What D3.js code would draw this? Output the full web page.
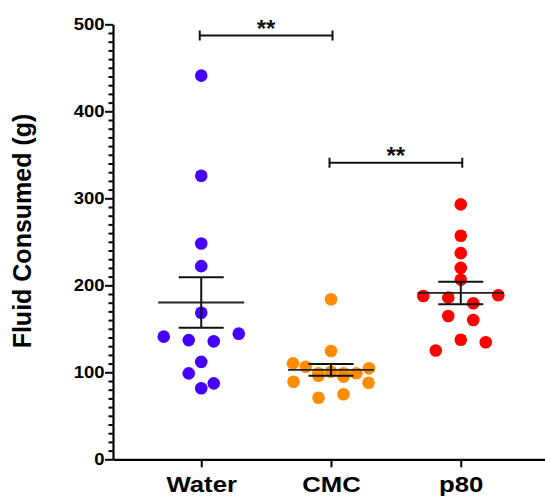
<!DOCTYPE html>
<html>
<head>
<meta charset="utf-8">
<script src="https://cdnjs.cloudflare.com/ajax/libs/d3/7.8.5/d3.min.js"></script>
<style>
  body { margin: 0; background: #fff; }
  text { font-family: "Liberation Sans", Arial, Helvetica, sans-serif; font-weight: bold; }
</style>
</head>
<body>
<script>
// data
var groups = ["Water", "CMC", "p80"];
var waterValues = [441, 326, 248, 222, 168.5, 141, 137, 135.6, 144.4, 98.8, 112, 81.6, 87.3];
var cmcValues = [184, 124.5, 110.3, 106.4, 98.9, 100.7, 98.9, 98.9, 104.6, 89.2, 96.1, 95, 88, 70.8, 74.7];
var p80Values = [293, 257, 237, 220, 206.5, 187.7, 185.8, 179.3, 188.5, 164.7, 160.1, 125, 137.5, 134.5];
var groupColors = ["#4600ff", "#ff8c00", "#ff0000"];
var yTicks = [0, 100, 200, 300, 400, 500];
var sigPairs = [["Water", "CMC"], ["CMC", "p80"]];
var sigLevels = [487, 341];
var sigLabels = ["**", "**"];

var w = 545,
    h = 496;

var margin = { top: 24.3, right: 0, bottom: 36.7, left: 113 };

var svg = d3
    .select("body")
    .append("svg")
    .attr("width", w)
    .attr("height", h);

var y = d3.scaleLinear()
    .domain([0, 500])
    .range([h - margin.bottom, margin.top]);

var x = d3.scalePoint()
    .domain(groups)
    .range([margin.left, 549])
    .padding(0.68);

var r = 6.3,
    slot = 25,
    maxSpread = 76,
    rowGap = 11.4,
    stretch = 1.12; // the reference text is a bit wide

// prism-like scatter: points close in value share a row, spread sideways
function spread(values) {
    var items = values.map(function (v, i) { return { v: v, i: i, dx: 0 }; });
    var sorted = items.slice().sort(function (a, b) { return b.v - a.v; });
    var rows = [], cur = null;
    sorted.forEach(function (d) {
        if (cur && y(d.v) - y(cur.anchor) < rowGap) cur.items.push(d);
        else { cur = { anchor: d.v, items: [d] }; rows.push(cur); }
    });
    rows.forEach(function (row) {
        row.items.sort(function (a, b) { return a.i - b.i; });
        var n = row.items.length;
        var step = n > 1 ? Math.min(slot, maxSpread / (n - 1)) : 0;
        row.items.forEach(function (d, k) { d.dx = (k - (n - 1) / 2) * step; });
    });
    return items;
}

var series = [waterValues, cmcValues, p80Values].map(function (vals, gi) {
    var m = d3.mean(vals);
    var sem = d3.deviation(vals) / Math.sqrt(vals.length);
    return { name: groups[gi], color: groupColors[gi], mean: m, sem: sem, points: spread(vals) };
});

// y axis with minor ticks
var minor = d3.range(0, 501, 10).filter(function (v) { return v % 100 != 0; });
svg.append("g")
    .attr("transform", "translate(" + margin.left + ",0)")
    .call(d3.axisLeft(y).tickValues(minor).tickSize(4.5).tickFormat(""))
    .call(function (g) { g.select(".domain").remove(); })
    .selectAll("line").attr("stroke", "#000").attr("stroke-width", 2);

var yaxis = svg.append("g")
    .attr("transform", "translate(" + margin.left + ",0)")
    .call(d3.axisLeft(y).tickValues(yTicks).tickSize(8).tickSizeOuter(0).tickPadding(1));
yaxis.select(".domain").attr("stroke", "#000").attr("stroke-width", 2.2);
yaxis.selectAll("line").attr("stroke", "#000").attr("stroke-width", 2);
yaxis.selectAll("text")
    .attr("font-size", 16.5)
    .attr("fill", "#000")
    .attr("x", -8.5 / stretch)
    .attr("transform", "scale(" + stretch + ",1)");

var xaxis = svg.append("g")
    .attr("transform", "translate(0," + y(0) + ")")
    .call(d3.axisBottom(x).tickSize(8).tickSizeOuter(0).tickPadding(8));
xaxis.select(".domain").attr("stroke", "#000").attr("stroke-width", 2.2);
xaxis.selectAll("line").attr("stroke", "#000").attr("stroke-width", 2);
xaxis.selectAll("text")
    .attr("font-size", 23)
    .attr("fill", "#000")
    .attr("transform", "scale(" + stretch + ",1)");

svg.append("text")
    .attr("transform", "translate(31," + 231 + ") rotate(-90)")
    .attr("text-anchor", "middle")
    .attr("font-size", 25)
    .attr("fill", "#000")
    .text("Fluid Consumed (g)");

// dots
var grp = svg.selectAll(".group")
    .data(series)
    .enter()
    .append("g")
    .attr("class", "group");

grp.selectAll("circle")
    .data(function (d) { return d.points.map(function (p) { return { p: p, s: d }; }); })
    .enter()
    .append("circle")
    .attr("cx", function (d) { return x(d.s.name) + d.p.dx; })
    .attr("cy", function (d) { return y(d.p.v); })
    .attr("r", r)
    .attr("fill", function (d) { return d.s.color; });

// mean and SEM
grp.append("line")
    .attr("x1", function (d) { return x(d.name) - 43; })
    .attr("x2", function (d) { return x(d.name) + 43; })
    .attr("y1", function (d) { return y(d.mean); })
    .attr("y2", function (d) { return y(d.mean); })
    .attr("stroke", "#222").attr("stroke-width", 1.8);

grp.append("line")
    .attr("x1", function (d) { return x(d.name); })
    .attr("x2", function (d) { return x(d.name); })
    .attr("y1", function (d) { return y(d.mean - d.sem); })
    .attr("y2", function (d) { return y(d.mean + d.sem); })
    .attr("stroke", "#111").attr("stroke-width", 2);

[-1, 1].forEach(function (sgn) {
    grp.append("line")
        .attr("x1", function (d) { return x(d.name) - 22.5; })
        .attr("x2", function (d) { return x(d.name) + 22.5; })
        .attr("y1", function (d) { return y(d.mean + sgn * d.sem); })
        .attr("y2", function (d) { return y(d.mean + sgn * d.sem); })
        .attr("stroke", "#111").attr("stroke-width", 2);
});

// significance bars
var sig = svg.selectAll(".sig")
    .data(sigPairs)
    .enter()
    .append("g")
    .attr("class", "sig");

sig.append("path")
    .attr("d", function (d, i) {
        var x1 = x(d[0]) - 1.5, x2 = x(d[1]) + 1.5, yy = y(sigLevels[i]);
        return "M" + x1 + "," + (yy - 5) + "V" + (yy + 5) + "M" + x1 + "," + yy + "H" + x2 +
            "M" + x2 + "," + (yy - 5) + "V" + (yy + 5);
    })
    .attr("fill", "none")
    .attr("stroke", "#111")
    .attr("stroke-width", 2);

sig.append("text")
    .attr("x", function (d) { return (x(d[0]) + x(d[1])) / 2; })
    .attr("y", function (d, i) { return y(sigLevels[i]) + 1.5; })
    .attr("text-anchor", "middle")
    .attr("font-size", 24)
    .attr("fill", "#111")
    .text(function (d, i) { return sigLabels[i]; });
</script>
</body>
</html>
